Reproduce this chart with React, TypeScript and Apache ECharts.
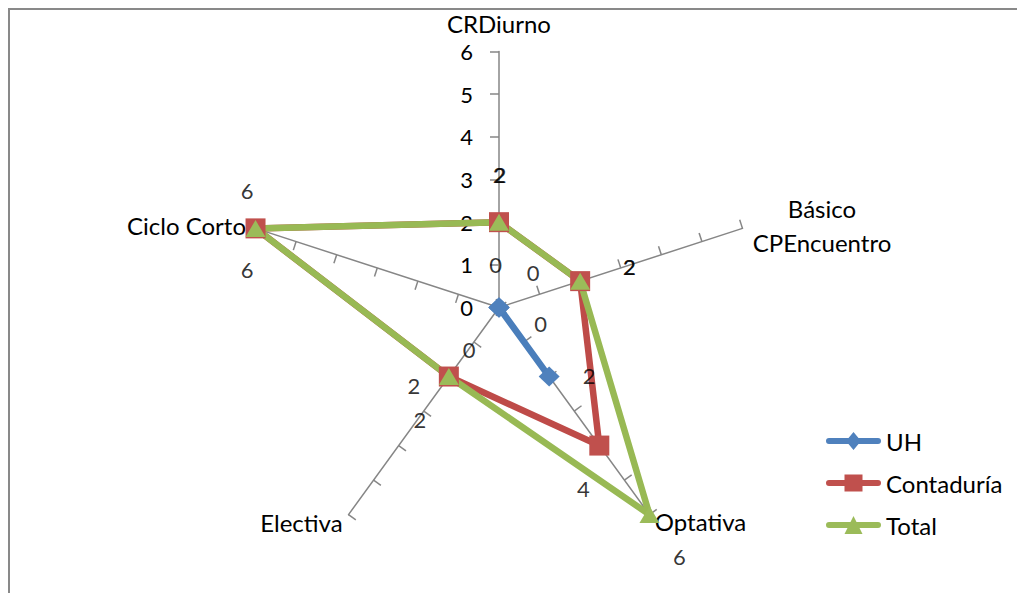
import React, { useEffect, useRef } from 'react';
import * as echarts from 'echarts';

// ---- data (Excel order, clockwise from top) ----
const categories = ['CRDiurno', 'Básico\nCPEncuentro', 'Optativa', 'Electiva', 'Ciclo Corto'];
const seriesNames = ['UH', 'Contaduría', 'Total'];
const uhValues = [0, 0, 2, 0, 0];
const contaduriaValues = [2, 2, 4, 2, 6];
const totalValues = [2, 2, 6, 2, 6];
const axisMin = 0;
const axisMax = 6;
const axisSplits = 6;

// ---- styling ----
const FONT = 'Lato';
const lineColors = ['#4A7EBB', '#BE4B48', '#98B954'];
const markerColors = ['#4F81BD', '#C0504D', '#9BBB59'];
const markerSymbols = ['diamond', 'rect', 'triangle'];
const markerSizes = [[21, 20], [20, 20], [20, 17]];
const legendIcons = [
  'path://M3,6 L52,6 A3,3 0 0 1 52,12 L3,12 A3,3 0 0 1 3,6 Z M27.5,0 L35,9 L27.5,18 L20,9 Z',
  'path://M3,6 L52,6 A3,3 0 0 1 52,12 L3,12 A3,3 0 0 1 3,6 Z M18.5,0.5 L36.5,0.5 L36.5,17.5 L18.5,17.5 Z',
  'path://M3,6 L52,6 A3,3 0 0 1 52,12 L3,12 A3,3 0 0 1 3,6 Z M27.5,0 L36.5,18 L18.5,18 Z',
];
// data-label offsets (px) per series, per category (Excel order)
const labelOffsets = [
  [[-3.5, -43], [34, -35], [40, -1], [-30, 42], [41.5, 16]],
  [[0, -48], [49, -15], [-16, 43], [-35, 8.5], [-8.5, -38]],
  [[1, -47.5], [49.5, -14.5], [30, 41.5], [-29, 43], [-8.5, 41.5]],
];
const nameGaps = [16, 10, 9, 10, 10];
const CENTER = [489, 297.5];
const RADIUS = 256;
// ECharts radar runs counter-clockwise: reorder
const ecOrder = [0, 4, 3, 2, 1];

export default function App() {
  const ref = useRef<HTMLDivElement>(null);
  useEffect(() => {
    document.documentElement.style.overflow = 'hidden';
    const chart = echarts.init(ref.current!, undefined, { renderer: 'svg' });
    const allValues = [uhValues, contaduriaValues, totalValues];

    const indicator = ecOrder.map((ci) => {
      const raw = categories[ci];
      const ind: any = {
        name: raw,
        min: axisMin,
        max: axisMax,
        nameGap: nameGaps[ci],
        axisLabel: { show: ci === 0 },
      };
      if (raw.indexOf('\n') >= 0) {
        const parts = raw.split('\n');
        ind.name = parts.map((p) => `{c|${p}}`).join('\n');
        ind.nameTextStyle = {
          rich: { c: { width: 140, align: 'center', fontSize: 24, fontFamily: FONT, color: '#000', lineHeight: 34 } },
        };
      }
      return ind;
    });

    const labelSeries = allValues.map((vals, s) => ({
      type: 'scatter',
      name: seriesNames[s] + ' labels',
      coordinateSystem: 'polar',
      symbolSize: 0,
      silent: true,
      clip: false,
      z: 5,
      itemStyle: { color: 'transparent' },
      label: {
        show: true,
        position: 'inside',
        color: '#000',
        fontSize: 22,
        fontFamily: FONT,
        formatter: (p: any) => String(p.value[0]),
      },
      data: vals.map((v, i) => ({
        value: [v, (i * 360) / categories.length],
        label: { offset: labelOffsets[s][i] },
      })),
    }));

    chart.setOption({
      animation: false,
      backgroundColor: '#fff',
      legend: {
        orient: 'vertical',
        left: 811,
        top: 414,
        itemWidth: 55,
        itemHeight: 18,
        itemGap: 18,
        selectedMode: false,
        textStyle: { fontSize: 24, fontFamily: FONT, color: '#000' },
        data: seriesNames.map((n, i) => ({
          name: n,
          icon: legendIcons[i],
          itemStyle: { color: markerColors[i], borderWidth: 0 },
        })),
      },
      radar: {
        center: CENTER,
        radius: RADIUS,
        startAngle: 90,
        splitNumber: axisSplits,
        shape: 'polygon',
        indicator,
        axisName: { color: '#000', fontSize: 24, fontFamily: FONT },
        axisLine: { lineStyle: { color: '#868686', width: 1.5 } },
        axisTick: { show: true, length: 9, lineStyle: { color: '#868686', width: 1.5 } },
        axisLabel: { show: false, color: '#000', fontSize: 22, fontFamily: FONT, margin: 26 },
        splitLine: { show: false },
        splitArea: { show: false },
      },
      polar: { center: CENTER, radius: RADIUS },
      angleAxis: { type: 'value', min: 0, max: 360, startAngle: 90, clockwise: true, show: false },
      radiusAxis: { type: 'value', min: axisMin, max: axisMax, show: false },
      series: [
        {
          type: 'radar',
          silent: true,
          z: 3,
          data: seriesNames.map((n, s) => ({
            name: n,
            value: ecOrder.map((ci) => allValues[s][ci]),
            symbol: markerSymbols[s],
            symbolSize: markerSizes[s],
            lineStyle: { color: lineColors[s], width: 6.5, join: 'round', cap: 'round' },
            itemStyle: { color: markerColors[s] },
          })),
        },
        ...labelSeries,
      ],
    });
    return () => chart.dispose();
  }, []);

  return (
    <div
      style={{
        width: 1017,
        height: 585,
        boxSizing: 'border-box',
        borderTop: '2px solid #898989',
        borderLeft: '2px solid #898989',
        overflow: 'hidden',
      }}
    >
      <div ref={ref} style={{ width: 1015, height: 583 }} />
    </div>
  );
}
